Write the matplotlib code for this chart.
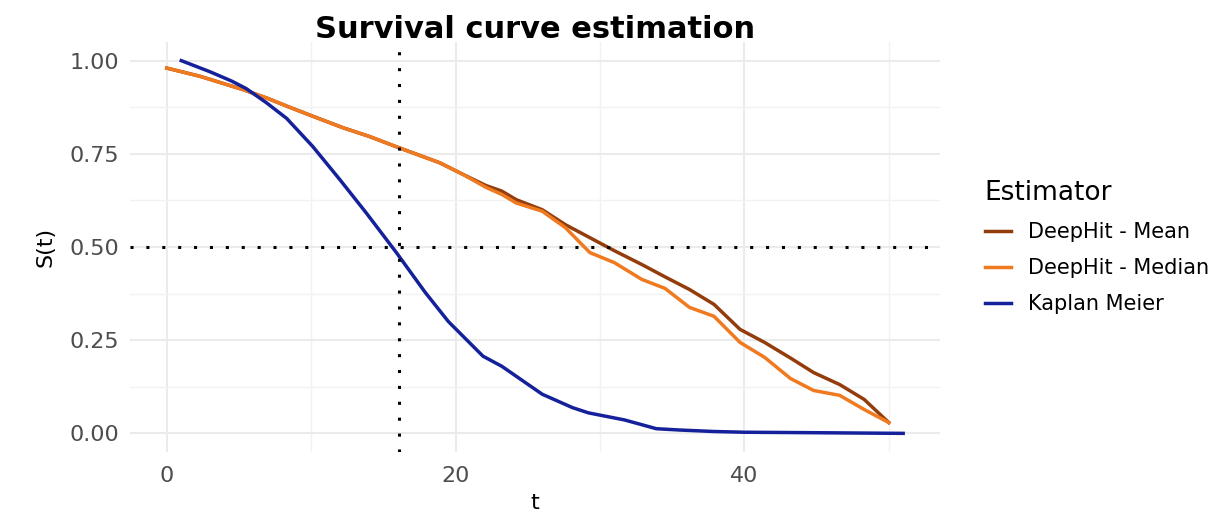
import matplotlib
matplotlib.use("Agg")
import matplotlib.pyplot as plt
from matplotlib.ticker import MultipleLocator, FormatStrFormatter

# values
dh_t = [0, 2.3, 5.3, 6.9, 8.5, 10.1, 12.2, 14, 16.1, 18.9, 20.5, 22.1, 23.2, 24.2,
        26, 27.6, 29.3, 31, 32.9, 34.5, 36.2, 37.9, 39.7, 41.4, 43.2, 44.8, 46.6,
        48.3, 50]
dh_mean = [0.98, 0.958, 0.922, 0.90, 0.875, 0.851, 0.82, 0.797, 0.766, 0.726,
           0.695, 0.665, 0.65, 0.627, 0.60, 0.56, 0.525, 0.49, 0.453, 0.42, 0.386,
           0.346, 0.279, 0.244, 0.202, 0.163, 0.131, 0.091, 0.029]
dh_median = [0.98, 0.958, 0.922, 0.90, 0.875, 0.851, 0.82, 0.797, 0.766, 0.726,
             0.695, 0.66, 0.641, 0.618, 0.596, 0.552, 0.485, 0.458, 0.413, 0.389,
             0.338, 0.314, 0.244, 0.204, 0.147, 0.115, 0.102, 0.064, 0.029]

km_t = [1, 3, 4.5, 5.5, 6.9, 8.3, 10.1, 12, 13.8, 15.9, 17.9, 19.5, 21.9, 23.2, 26,
        28.1, 29.2, 31.7, 33.9, 35.5, 37.9, 40, 44, 51]
km_s = [1.0, 0.97, 0.945, 0.925, 0.887, 0.845, 0.77, 0.68, 0.592, 0.485, 0.378, 0.30,
        0.207, 0.18, 0.105, 0.069, 0.055, 0.036, 0.0125, 0.009, 0.005, 0.003, 0.002,
        0.0]

median_time = 16.1
half = 0.5

series = ["DeepHit - Mean", "DeepHit - Median", "Kaplan Meier"]
colors = ["#933D0C", "#F07A20", "#14219A"]

plt.rcParams['font.family'] = ['DejaVu Sans']

fig = plt.figure(figsize=(12.28, 5.13), dpi=100)
ax = fig.add_axes([130 / 1228, 1 - 452 / 513, 810 / 1228, 410 / 513])

ax.plot(dh_t, dh_mean, color=colors[0], lw=2.5, label=series[0])
ax.plot(dh_t, dh_median, color=colors[1], lw=2.5, label=series[1])
ax.plot(km_t, km_s, color=colors[2], lw=2.5, label=series[2])

ax.axvline(median_time, color="black", lw=2.2, ls=(0, (1, 4.2)), zorder=3)
ax.axhline(half, color="black", lw=2.2, ls=(0, (1, 4.2)), zorder=3)

ax.set_xlim(-2.55, 53.55)
ax.set_ylim(-0.05, 1.05)
ax.xaxis.set_major_locator(MultipleLocator(20))
ax.xaxis.set_minor_locator(MultipleLocator(10))
ax.yaxis.set_major_locator(MultipleLocator(0.25))
ax.yaxis.set_minor_locator(MultipleLocator(0.125))
ax.yaxis.set_major_formatter(FormatStrFormatter("%.2f"))

ax.grid(which="major", color="#ebebeb", lw=1.5)
ax.grid(which="minor", color="#f2f2f2", lw=1.0)
ax.set_axisbelow(True)
for s in ax.spines.values():
    s.set_visible(False)
ax.tick_params(which="both", length=0)
ax.tick_params(axis="x", labelsize=16, labelcolor="#4d4d4d", pad=10)
ax.tick_params(axis="y", labelsize=16, labelcolor="#4d4d4d", pad=8)

ax.set_xlabel("t", fontsize=16, labelpad=5)
ax.set_ylabel("S(t)", fontsize=16, labelpad=10)

fig.text(535 / 1228, 1 - 38 / 513, "Survival curve estimation", ha="center",
         va="baseline", fontsize=22, fontweight="bold")

leg = ax.legend(loc="center left", bbox_to_anchor=(966 / 1228, 1 - 247 / 513),
                bbox_transform=fig.transFigure, frameon=False, fontsize=15,
                title="Estimator", title_fontsize=19, handlelength=1.25,
                handletextpad=0.85, labelspacing=0.78, alignment="left")

fig.savefig("out.png", dpi=100)
